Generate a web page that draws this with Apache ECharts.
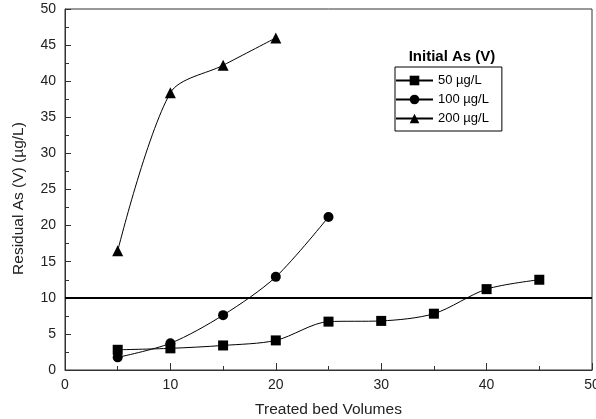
<!DOCTYPE html>
<html>
<head>
<meta charset="utf-8">
<script src="https://cdn.jsdelivr.net/npm/echarts@6/dist/echarts.min.js"></script>
<style>html,body{margin:0;padding:0;background:#fff}#c{width:596px;height:419px}</style>
</head>
<body>
<div id="c"></div>
<script>
const seriesNames = ['50 \u00b5g/L', '100 \u00b5g/L', '200 \u00b5g/L'];
const bv50 = [5, 10, 15, 20, 25, 30, 35, 40, 45];
const as50 = [2.8, 3.0, 3.4, 4.1, 6.7, 6.8, 7.8, 11.2, 12.5];
const bv100 = [5, 10, 15, 20, 25];
const as100 = [1.75, 3.7, 7.6, 12.9, 21.2];
const bv200 = [5, 10, 15, 20];
const as200 = [16.5, 38.4, 42.2, 46.0];
const limitValue = 10;

const pair = (xs, ys) => xs.map((x, i) => [x, ys[i]]);
const font = 'Liberation Sans, Arial, sans-serif';
const chart = echarts.init(document.getElementById('c'), null, {renderer: 'canvas'});
const lineBase = {
  type: 'line', smooth: 0.3, showSymbol: true,
  lineStyle: {color: '#000', width: 1},
  itemStyle: {color: '#000'}
};
chart.setOption({
  animation: false,
  backgroundColor: '#fff',
  grid: {left: 65, right: 4, top: 9, bottom: 49, outerBoundsMode: 'none', containLabel: false,
    show: true, borderColor: '#333', borderWidth: 1},
  title: {text: 'Initial As (V)', left: 447, top: 44, textAlign: 'center',
    textStyle: {fontFamily: font, fontSize: 15, fontWeight: 'bold', color: '#000'}},
  legend: {
    orient: 'vertical', left: 395, top: 67,
    itemWidth: 37, itemHeight: 12, itemGap: 6,
    padding: [7, 13, 6, 0],
    borderColor: '#000', borderWidth: 1,
    textStyle: {fontFamily: font, fontSize: 13, color: '#000'},
    data: seriesNames
  },
  xAxis: {
    type: 'value', min: 0, max: 50, interval: 10,
    name: 'Treated bed Volumes', nameLocation: 'middle', nameGap: 32,
    nameTextStyle: {fontFamily: font, fontSize: 15.5, color: '#222'},
    axisLine: {lineStyle: {color: '#333', width: 1}},
    axisTick: {inside: true, length: 7, lineStyle: {color: '#333'}},
    minorTick: {show: true, splitNumber: 2, length: 4, lineStyle: {color: '#333'}},
    axisLabel: {fontFamily: font, fontSize: 14, color: '#222', margin: 8},
    splitLine: {show: false}
  },
  yAxis: {
    type: 'value', min: 0, max: 50, interval: 5,
    name: 'Residual As (V) (\u00b5g/L)', nameLocation: 'middle', nameGap: 38, nameRotate: 90,
    nameTextStyle: {fontFamily: font, fontSize: 15.5, color: '#222', padding: [0, 18, 0, 0]},
    axisLine: {lineStyle: {color: '#333', width: 1}},
    axisTick: {inside: true, length: 6, lineStyle: {color: '#333'}},
    minorTick: {show: true, splitNumber: 2, length: 4, lineStyle: {color: '#333'}},
    axisLabel: {fontFamily: font, fontSize: 14, color: '#222', margin: 9},
    splitLine: {show: false}
  },
  series: [
    Object.assign({}, lineBase, {name: seriesNames[0], data: pair(bv50, as50), symbol: 'rect', symbolSize: 10,
      markLine: {silent: true, symbol: 'none', label: {show: false},
        lineStyle: {color: '#000', width: 2, type: 'solid'}, data: [{yAxis: limitValue}]}}),
    Object.assign({}, lineBase, {name: seriesNames[1], data: pair(bv100, as100), symbol: 'circle', symbolSize: 10}),
    Object.assign({}, lineBase, {name: seriesNames[2], data: pair(bv200, as200), symbol: 'triangle', symbolSize: 11})
  ]
});
</script>
</body>
</html>
